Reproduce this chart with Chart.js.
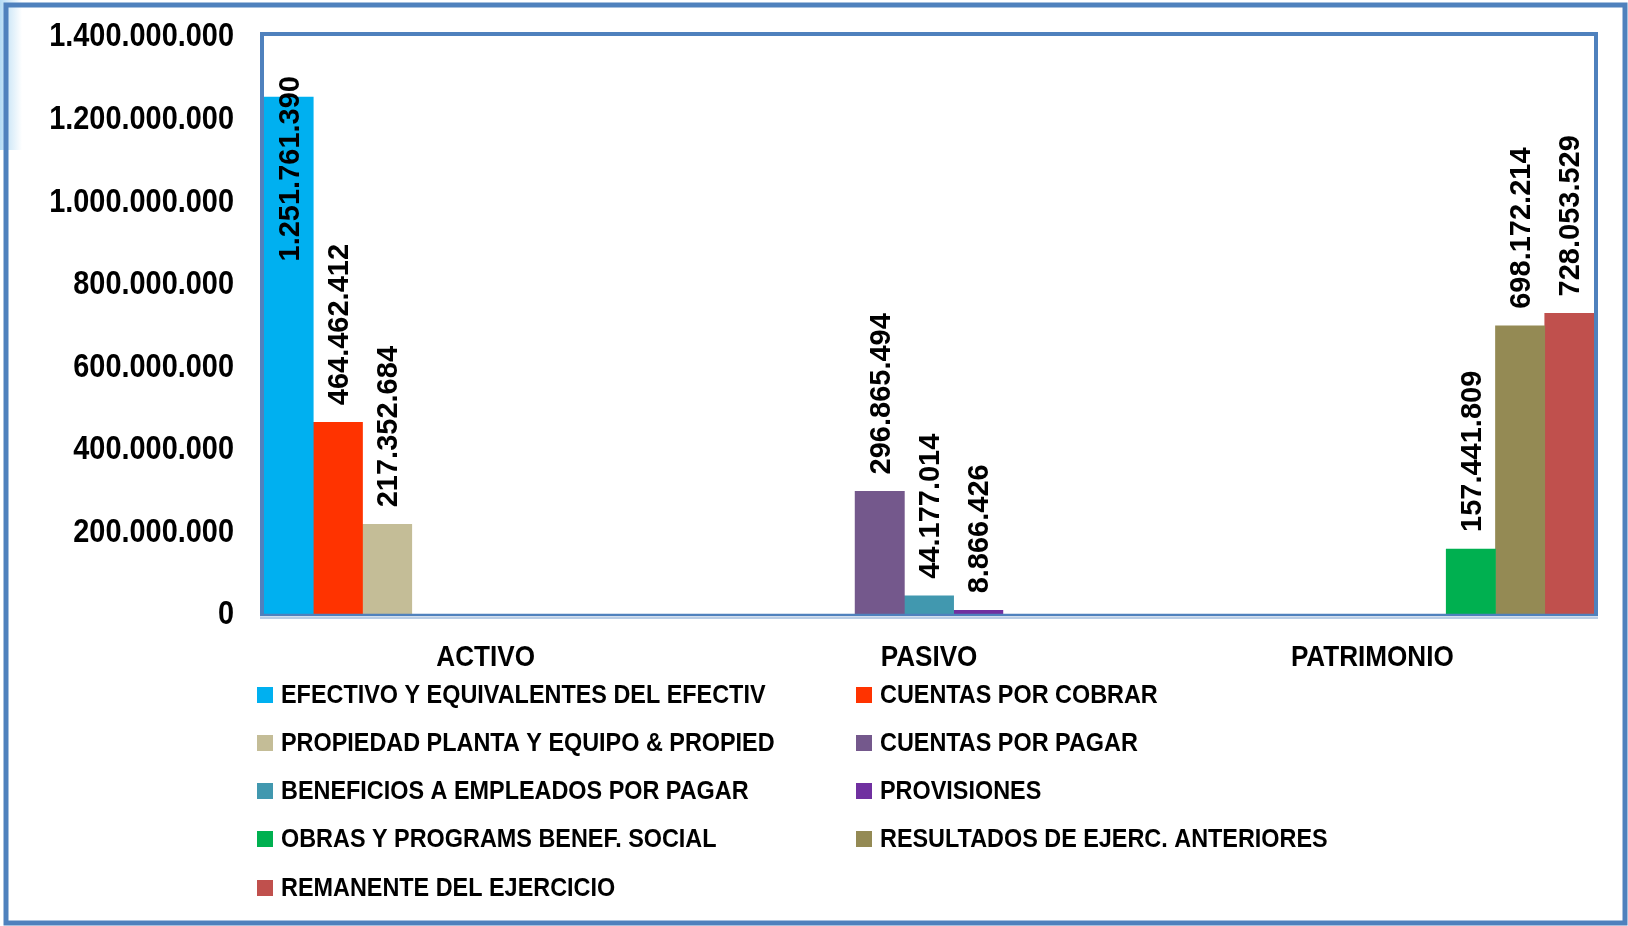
<!DOCTYPE html>
<html>
<head>
<meta charset="utf-8">
<script src="https://cdn.jsdelivr.net/npm/chart.js@4"></script>
<style>
  html, body { margin: 0; padding: 0; background: #fff; }
  #wrap { position: relative; width: 1628px; height: 926px; }
</style>
</head>
<body>
<div id="wrap"><canvas id="c" width="1628" height="926"></canvas></div>
<script>
// === DATOS ===
const categorias = ['ACTIVO', 'PASIVO', 'PATRIMONIO'];
const series = [
  'EFECTIVO Y EQUIVALENTES DEL EFECTIV',
  'CUENTAS POR COBRAR',
  'PROPIEDAD PLANTA Y EQUIPO & PROPIED',
  'CUENTAS POR PAGAR',
  'BENEFICIOS A EMPLEADOS POR PAGAR',
  'PROVISIONES',
  'OBRAS Y PROGRAMS BENEF. SOCIAL',
  'RESULTADOS DE EJERC. ANTERIORES',
  'REMANENTE DEL EJERCICIO'
];
const efectivo    = [1251761390, null, null];
const porCobrar   = [464462412, null, null];
const propiedad   = [217352684, null, null];
const porPagar    = [null, 296865494, null];
const beneficios  = [null, 44177014, null];
const provisiones = [null, 8866426, null];
const obras       = [null, null, 157441809];
const resultados  = [null, null, 698172214];
const remanente   = [null, null, 728053529];
const valores = [efectivo, porCobrar, propiedad, porPagar, beneficios, provisiones, obras, resultados, remanente];
const colores = ['#00B0F0', '#FF3300', '#C4BD97', '#74588C', '#4198AF', '#7030A0', '#00B050', '#948A54', '#C0504D'];
const yMax = 1400000000, yPaso = 200000000;

const FUENTE = "'Liberation Sans', Arial, sans-serif";
const AZUL = '#4F81BD';

function puntos(v) {
  return String(Math.round(v)).replace(/\B(?=(\d{3})+(?!\d))/g, '.');
}

// texto estrechado en horizontal (la letra original es más angosta)
function textoAngosto(ctx, txt, x, y, align, sx) {
  const w = ctx.measureText(txt).width * sx;
  let x0 = x;
  if (align === 'right') x0 = x - w;
  else if (align === 'center') x0 = x - w / 2;
  ctx.save();
  ctx.translate(x0, y);
  ctx.scale(sx, 1);
  ctx.textAlign = 'left';
  ctx.fillText(txt, 0, 0);
  ctx.restore();
}

// === PLUGIN: marcos, ejes, etiquetas y leyenda ===
const decor = {
  id: 'decor',
  beforeDraw(chart) {
    const ctx = chart.ctx;
    ctx.save();
    ctx.fillStyle = '#fff';
    ctx.fillRect(0, 0, chart.width, chart.height);
    const g = ctx.createLinearGradient(0, 0, 22, 0);
    g.addColorStop(0, 'rgba(120,190,235,0.55)');
    g.addColorStop(1, 'rgba(120,190,235,0)');
    ctx.fillStyle = g;
    ctx.fillRect(0, 0, 22, 150);
    ctx.strokeStyle = AZUL;
    ctx.lineWidth = 5;
    ctx.strokeRect(6, 5, 1619, 918);
    ctx.restore();
  },
  afterDatasetsDraw(chart) {
    const ctx = chart.ctx;
    const a = chart.chartArea;
    const ys = chart.scales.y, xs = chart.scales.x;
    ctx.save();
    // marco del área de trazado
    ctx.strokeStyle = AZUL;
    ctx.lineWidth = 4;
    ctx.beginPath();
    ctx.moveTo(a.left - 2, a.bottom);
    ctx.lineTo(a.left - 2, a.top - 2);
    ctx.lineTo(a.right + 2, a.top - 2);
    ctx.lineTo(a.right + 2, a.bottom);
    ctx.stroke();
    ctx.lineWidth = 2.5;
    ctx.beginPath();
    ctx.moveTo(a.left - 4, a.bottom + 1);
    ctx.lineTo(a.right + 4, a.bottom + 1);
    ctx.stroke();
    ctx.strokeStyle = '#B9CDE5';
    ctx.lineWidth = 2;
    ctx.beginPath();
    ctx.moveTo(a.left - 4, a.bottom + 4);
    ctx.lineTo(a.right + 4, a.bottom + 4);
    ctx.stroke();

    ctx.fillStyle = '#000';
    ctx.textBaseline = 'middle';

    // etiquetas del eje Y
    ctx.font = 'bold 34px ' + FUENTE;
    ys.ticks.forEach(t => {
      textoAngosto(ctx, puntos(t.value), a.left - 30, ys.getPixelForValue(t.value) + 1, 'right', 0.85);
    });

    // etiquetas del eje X
    ctx.font = 'bold 30px ' + FUENTE;
    chart.data.labels.forEach((lab, i) => {
      textoAngosto(ctx, lab, xs.getPixelForTick(i), a.bottom + 44, 'center', 0.87);
    });

    // etiquetas de datos verticales
    ctx.font = 'bold 29px ' + FUENTE;
    ctx.textAlign = 'left';
    chart.data.datasets.forEach((ds, i) => {
      const meta = chart.getDatasetMeta(i);
      meta.data.forEach((bar, j) => {
        const v = ds.data[j];
        if (v == null) return;
        const txt = puntos(v);
        const w = ctx.measureText(txt).width;
        let inicio = bar.y - 17;
        if (inicio - w < a.top + 40) inicio = a.top + 40 + w;
        ctx.save();
        ctx.translate(bar.x + 2, inicio);
        ctx.rotate(-Math.PI / 2);
        ctx.fillText(txt, 0, 0);
        ctx.restore();
      });
    });

    // leyenda en dos columnas
    const colX = [257, 856];
    const filaY = [695, 743, 791, 839, 888];
    ctx.font = 'bold 26px ' + FUENTE;
    chart.data.datasets.forEach((ds, i) => {
      const x = colX[i % 2], y = filaY[Math.floor(i / 2)];
      ctx.fillStyle = ds.backgroundColor;
      ctx.fillRect(x, y - 8, 16, 16);
      ctx.fillStyle = '#000';
      textoAngosto(ctx, ds.label, x + 24, y + 1, 'left', 0.9);
    });
    ctx.restore();
  }
};

new Chart(document.getElementById('c'), {
  type: 'bar',
  data: {
    labels: categorias,
    datasets: series.map((s, i) => ({
      label: s,
      data: valores[i],
      backgroundColor: colores[i],
      borderWidth: 0,
      categoryPercentage: 1,
      barPercentage: 1
    }))
  },
  options: {
    responsive: false,
    animation: false,
    events: [],
    layout: { padding: { left: 0, top: 36, right: 34, bottom: 0 } },
    plugins: { legend: { display: false }, tooltip: { enabled: false } },
    scales: {
      x: {
        grid: { display: false },
        border: { display: false },
        ticks: { display: false },
        afterFit: s => { s.height = 926 - 614; }
      },
      y: {
        min: 0,
        max: yMax,
        grid: { display: false },
        border: { display: false },
        ticks: { display: false, stepSize: yPaso },
        afterFit: s => { s.width = 264; }
      }
    }
  },
  plugins: [decor]
});
</script>
</body>
</html>
